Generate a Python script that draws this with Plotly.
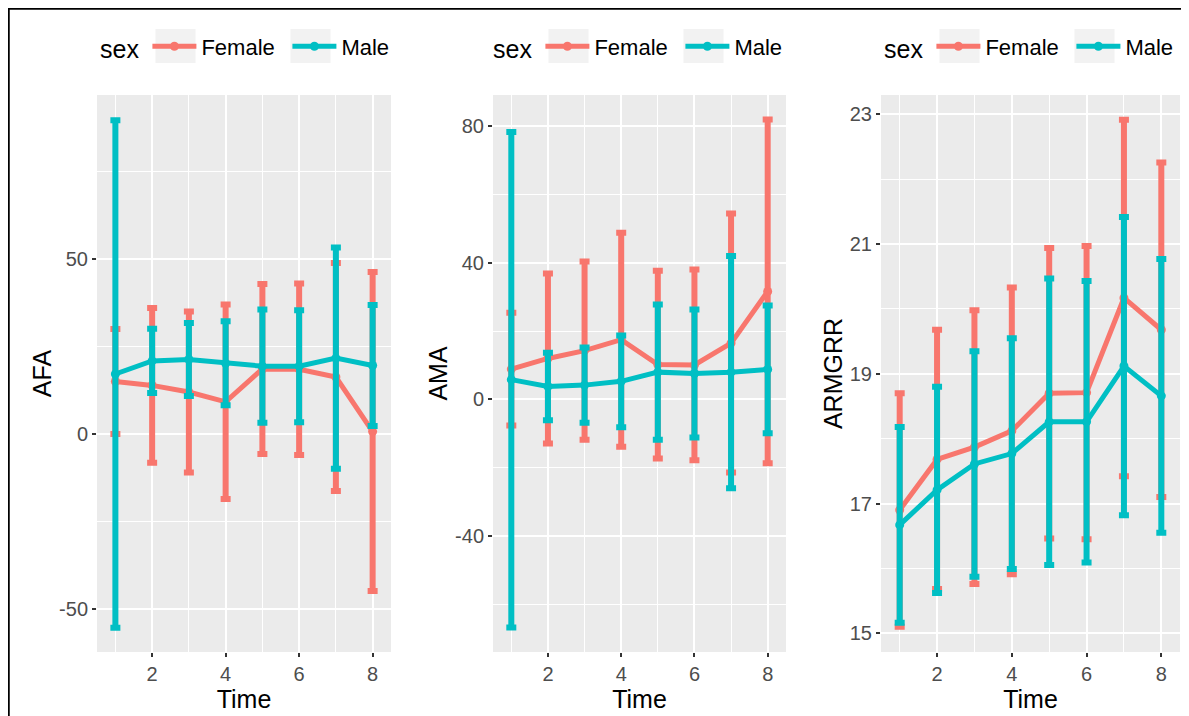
import plotly.graph_objects as go

# ---------------- data ----------------
time = [1, 2, 3, 4, 5, 6, 7, 8]
sexes = ["Female", "Male"]

afa_female_mean = [15.0, 13.9, 12.0, 9.2, 18.6, 18.5, 16.3, 0.7]
afa_female_err = [15.0, 22.1, 23.0, 27.8, 24.3, 24.5, 32.6, 45.6]
afa_male_mean = [17.15, 20.9, 21.3, 20.2, 19.4, 19.4, 21.7, 19.6]
afa_male_err = [72.5, 9.2, 10.4, 12.0, 16.2, 16.0, 31.6, 17.3]

ama_female_mean = [8.9, 12.0, 14.3, 17.5, 10.2, 10.1, 16.5, 31.6]
ama_female_err = [16.5, 24.9, 26.1, 31.3, 27.5, 27.9, 37.9, 50.3]
ama_male_mean = [5.8, 3.8, 4.2, 5.3, 8.0, 7.6, 8.0, 8.8]
ama_male_err = [72.5, 9.9, 11.0, 13.4, 19.8, 18.7, 34.0, 18.7]

armgrr_female_mean = [16.9, 17.68, 17.87, 18.12, 18.70, 18.71, 20.17, 19.68]
armgrr_female_err = [1.80, 2.00, 2.11, 2.21, 2.24, 2.26, 2.75, 2.58]
armgrr_male_mean = [16.67, 17.21, 17.61, 17.77, 18.26, 18.26, 19.12, 18.66]
armgrr_male_err = [1.51, 1.59, 1.74, 1.78, 2.21, 2.17, 2.30, 2.11]

panel_names = ["AFA", "AMA", "ARMGRR"]
x_ticks = [2, 4, 6, 8]
y_ticks = [[-50, 0, 50], [-40, 0, 40, 80], [15, 17, 19, 21, 23]]
y_ticklabels = [["-50", "0", "50"], ["-40", "0", "40", "80"], ["15", "17", "19", "21", "23"]]
y_minor_ticks = [[-25, 25, 75], [-60, -20, 20, 60], [16, 18, 20, 22]]
y_ranges = [[-62.3, 96.9], [-73.9, 89.1], [14.71, 23.30]]

panels = [
    (afa_female_mean, afa_female_err, afa_male_mean, afa_male_err),
    (ama_female_mean, ama_female_err, ama_male_mean, ama_male_err),
    (armgrr_female_mean, armgrr_female_err, armgrr_male_mean, armgrr_male_err),
]

# ---------------- style / layout ----------------
OFF = 8                      # page body margin
W, H = 1189 - OFF, 716 - OFF
colors = {"Female": "#F8766D", "Male": "#00BFC4"}
FONT = "Liberation Sans, Arial, sans-serif"
px_x = [(97, 391), (493, 786), (881, 1180)]   # plot areas in screen pixels
py_top, py_bot = 95, 652
legend_left = [100, 493, 884]                 # where "sex" starts (screen px)
key_width = {"Female": 81, "Male": 50}
ITEMW = 44


def X(px):
    return (px - OFF) / W


def Y(py):
    return 1 - (py - OFF) / H


fig = go.Figure()
for i, (fm, fe, mm, me) in enumerate(panels):
    sfx = "" if i == 0 else str(i + 1)
    for sex, mean, err in (("Female", fm, fe), ("Male", mm, me)):
        fig.add_trace(go.Scatter(
            x=time, y=mean, mode="lines+markers", name=sex,
            line=dict(color=colors[sex], width=5),
            marker=dict(color=colors[sex], size=9),
            error_y=dict(type="data", array=err, visible=True,
                         color=colors[sex], thickness=6, width=5),
            xaxis="x" + sfx, yaxis="y" + sfx,
            legend="legend" + sfx, showlegend=True,
            legendwidth=key_width[sex],
        ))
    x0, x1 = px_x[i]
    axcommon = dict(showline=False, zeroline=False, ticks="outside", ticklen=4,
                    tickwidth=1.5, tickcolor="#333333",
                    tickfont=dict(family=FONT, size=20, color="#4D4D4D"),
                    gridcolor="white", gridwidth=1.6,
                    title_font=dict(family=FONT, size=25, color="black"))
    fig.update_layout(**{
        "xaxis" + sfx: dict(axcommon, domain=[X(x0), X(x1)], anchor="y" + sfx,
                            range=[0.5, 8.5], tickvals=x_ticks,
                            minor=dict(tickvals=[1, 3, 5, 7], showgrid=True,
                                       gridcolor="white", gridwidth=0.8, ticks=""),
                            title=dict(text="Time", standoff=0)),
        "yaxis" + sfx: dict(axcommon, domain=[Y(py_bot), Y(py_top)], anchor="x" + sfx,
                            range=y_ranges[i], tickvals=y_ticks[i], ticktext=y_ticklabels[i],
                            minor=dict(tickvals=y_minor_ticks[i], showgrid=True,
                                       gridcolor="white", gridwidth=0.8, ticks=""),
                            title=dict(text=panel_names[i], standoff=0)),
        "legend" + sfx: dict(orientation="h", x=X(legend_left[i] - 2), xanchor="left",
                             y=Y(47), yanchor="middle",
                             bgcolor="rgba(0,0,0,0)",
                             title=dict(text="sex", side="left",
                                        font=dict(family=FONT, size=25, color="black")),
                             font=dict(family=FONT, size=22, color="black"),
                             itemwidth=ITEMW),
    })
    # grey key backgrounds behind the legend symbols
    c1 = legend_left[i] + 75.5
    c2 = c1 + ITEMW + 10 + key_width["Female"]
    for c in (c1, c2):
        fig.add_shape(type="rect", xref="paper", yref="paper", layer="below",
                      x0=X(c - 20), x1=X(c + 20), y0=Y(63), y1=Y(29),
                      fillcolor="#F2F2F2", line=dict(width=0))

# outer frame lines (top and left) as in the screenshot
fig.add_shape(type="line", xref="paper", yref="paper", x0=0, x1=1, y0=Y(8.5), y1=Y(8.5),
              line=dict(color="black", width=2.5))
fig.add_shape(type="line", xref="paper", yref="paper", x0=X(8.5), x1=X(8.5), y0=0, y1=1,
              line=dict(color="black", width=2.5))

fig.update_layout(
    width=W, height=H,
    margin=dict(l=0, r=0, t=0, b=0),
    paper_bgcolor="white", plot_bgcolor="#EBEBEB",
    font=dict(family=FONT),
)
fig.write_html("out.html")
